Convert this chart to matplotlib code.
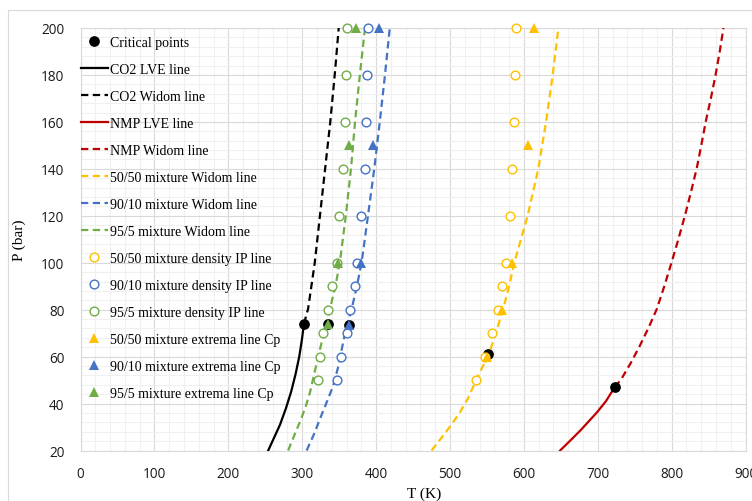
import matplotlib
matplotlib.use("Agg")
import matplotlib.pyplot as plt
from matplotlib.patches import Rectangle
from matplotlib.ticker import MultipleLocator

# ---------------- data ----------------
crit_T = [302.4, 335, 364, 552, 723]
crit_P = [74, 74, 73.5, 61, 47]

co2_lve_T = [254, 262, 270, 278, 285, 291, 296, 299.5, 302.4]
co2_lve_P = [20, 25.5, 31, 38, 45, 52.5, 60, 67, 74]

co2_widom_T = [302.4, 308, 317, 324, 331, 338, 344, 349.4]
co2_widom_P = [74, 80.4, 100, 120, 140, 160, 180, 200]

nmp_lve_T = [649, 662, 676, 688, 699, 711, 723]
nmp_lve_P = [20, 24, 28.4, 32.5, 36.3, 41, 47]

nmp_widom_T = [723, 732, 745, 757, 769, 780, 790, 800, 809, 818, 826, 834, 840, 846, 853, 859.5, 865, 870]
nmp_widom_P = [47, 50.5, 57.5, 64.7, 72.5, 80.4, 90, 100.3, 110, 120.2, 130, 140.4, 150, 160, 170, 180.2, 190, 200]

w5050_T = [475, 490, 503, 513.5, 524, 534, 543, 552, 562, 572, 580, 587, 605, 619.5, 630, 639, 646.6]
w5050_P = [20, 26, 31.5, 36.3, 42, 49, 55, 60.4, 70, 80.4, 90, 100, 120, 140, 160, 180, 200]

w9010_T = [306, 316, 326, 335, 342, 349, 356, 361, 367, 374, 380.5, 389, 397.5, 405, 412, 418.5]
w9010_P = [20, 27, 35, 42, 47.6, 56, 67, 74, 80.4, 90, 100.3, 120, 140, 160, 180, 200]

w955_T = [281, 290, 298, 305, 310.6, 318, 326.4, 337.6, 345, 351, 359, 366, 371.5, 378, 385]
w955_P = [20, 27, 33, 39, 44.8, 55, 66.2, 80.4, 90, 100.3, 120, 140, 160, 180, 200]

ip_P = [200, 180, 160, 140, 120, 100, 90, 80, 70, 60, 50]
ip5050_T = [589, 588, 587, 583.5, 581, 576, 571, 565, 557, 547, 535]
ip9010_T = [389.5, 387.3, 386.3, 385, 379.6, 374.6, 371.5, 364.7, 360, 352.5, 347.5]
ip955_T = [360, 359, 358, 354.8, 350, 347.5, 340.7, 335.3, 327.7, 324, 321]

cp5050_T = [613, 606, 584, 570, 550]
cp5050_P = [200, 150, 100, 80, 60]
cp9010_T = [404, 396, 380, 364]
cp9010_P = [200, 150, 100, 73.5]
cp955_T = [373, 364, 349, 335]
cp955_P = [200, 150, 100, 74]

x_ticks = [0, 100, 200, 300, 400, 500, 600, 700, 800, 900]
y_ticks = [20, 40, 60, 80, 100, 120, 140, 160, 180, 200]

# ---------------- styling ----------------
YEL = "#FFC000"
BLU = "#4472C4"
GRN = "#70AD47"
RED = "#C00000"
DASH = (0, (3.3, 2.0))
SERIF = ["Liberation Serif", "DejaVu Serif"]
SANS = ["Open Sans", "DejaVu Sans"]

fig = plt.figure(figsize=(7.52, 5.02), dpi=100)
W, H = 752, 502
ax_l, ax_r, ax_t, ax_b = 80.5, 745.6, 29.0, 451.5
ax = fig.add_axes([ax_l / W, 1 - ax_b / H, (ax_r - ax_l) / W, (ax_b - ax_t) / H])

# outer chart border
fig.patches.append(Rectangle((8.3 / W, -0.2), 1.2, 1.2 - 11 / H, transform=fig.transFigure,
                             fill=False, edgecolor="#d9d9d9", lw=0.8))

lw = 1.6
h_co2l, = ax.plot(co2_lve_T, co2_lve_P, color="black", lw=lw, label="CO2 LVE line", zorder=3)
h_co2w, = ax.plot(co2_widom_T, co2_widom_P, color="black", lw=lw, ls=DASH, label="CO2 Widom line", zorder=3)
h_nmpl, = ax.plot(nmp_lve_T, nmp_lve_P, color=RED, lw=lw, label="NMP LVE line", zorder=3)
h_nmpw, = ax.plot(nmp_widom_T, nmp_widom_P, color=RED, lw=lw, ls=DASH, label="NMP Widom line", zorder=3)
h_w1, = ax.plot(w5050_T, w5050_P, color=YEL, lw=lw, ls=DASH, label="50/50 mixture Widom line", zorder=3)
h_w2, = ax.plot(w9010_T, w9010_P, color=BLU, lw=lw, ls=DASH, label="90/10 mixture Widom line", zorder=3)
h_w3, = ax.plot(w955_T, w955_P, color=GRN, lw=lw, ls=DASH, label="95/5 mixture Widom line", zorder=3)

h_crit, = ax.plot(crit_T, crit_P, ls="none", marker="o", ms=6.7, color="black", label="Critical points",
                  zorder=4, clip_on=False)

cms = 6.3
h_i1, = ax.plot(ip5050_T, ip_P, ls="none", marker="o", ms=cms, mfc="white", mec=YEL, mew=1.0,
                label="50/50 mixture density IP line", zorder=5, clip_on=False)
h_i2, = ax.plot(ip9010_T, ip_P, ls="none", marker="o", ms=cms, mfc="white", mec=BLU, mew=1.0,
                label="90/10 mixture density IP line", zorder=5, clip_on=False)
h_i3, = ax.plot(ip955_T, ip_P, ls="none", marker="o", ms=cms, mfc="white", mec=GRN, mew=1.0,
                label="95/5 mixture density IP line", zorder=5, clip_on=False)

tms = 7.7
h_c1, = ax.plot(cp5050_T, cp5050_P, ls="none", marker="^", ms=tms, color=YEL, mew=0,
                label="50/50 mixture extrema line Cp", zorder=6, clip_on=False)
h_c2, = ax.plot(cp9010_T, cp9010_P, ls="none", marker="^", ms=tms, color=BLU, mew=0,
                label="90/10 mixture extrema line Cp", zorder=6, clip_on=False)
h_c3, = ax.plot(cp955_T, cp955_P, ls="none", marker="^", ms=tms, color=GRN, mew=0,
                label="95/5 mixture extrema line Cp", zorder=6, clip_on=False)

ax.set_xlim(0, 900)
ax.set_ylim(20, 200)
ax.set_xticks(x_ticks)
ax.set_yticks(y_ticks)
ax.xaxis.set_minor_locator(MultipleLocator(20))
ax.yaxis.set_minor_locator(MultipleLocator(4))
ax.grid(which="major", color="#d9d9d9", lw=0.8, zorder=0)
ax.grid(which="minor", color="#f0f0f0", lw=0.8, zorder=0)
ax.set_axisbelow(True)
for s in ax.spines.values():
    s.set_color("#d9d9d9")
    s.set_linewidth(0.8)
ax.tick_params(which="both", length=0)
ax.tick_params(axis="y", pad=11.5)
ax.tick_params(axis="x", pad=11.5)
for lab in ax.get_xticklabels() + ax.get_yticklabels():
    lab.set_family(SANS)
    lab.set_fontsize(9.8)
    lab.set_color("#1a1a1a")

fig.text(19 / W, 1 - 240 / H, "P (bar)", rotation=90, ha="center", va="center",
         family=SERIF, fontsize=11)
fig.text(424 / W, 1 - 494 / H, "T (K)", ha="center", va="center", family=SERIF, fontsize=11)

handles = [h_crit, h_co2l, h_co2w, h_nmpl, h_nmpw, h_w1, h_w2, h_w3,
           h_i1, h_i2, h_i3, h_c1, h_c2, h_c3]
leg = ax.legend(handles=handles, loc="upper left", bbox_to_anchor=(0, 0.982),
                frameon=False, borderpad=0, borderaxespad=0, handlelength=1.95,
                handletextpad=0.2, labelspacing=1.01, numpoints=1,
                prop={"family": SERIF, "size": 10})
leg.set_zorder(10)

fig.savefig("out.png", dpi=100, facecolor="white")
